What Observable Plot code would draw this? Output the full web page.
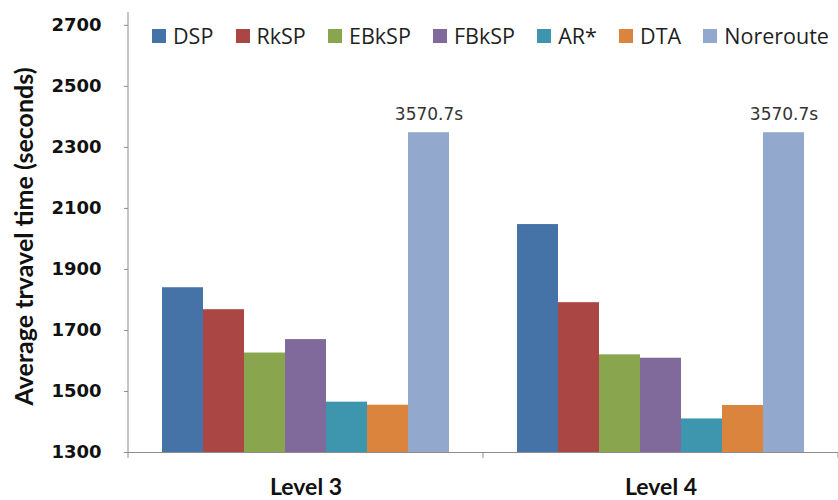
<!DOCTYPE html>
<html><head><meta charset="utf-8">
<script src="https://cdn.jsdelivr.net/npm/d3@7"></script>
<script src="https://cdn.jsdelivr.net/npm/@observablehq/plot@0.6"></script>
<style>
body{margin:0;background:#fff;}
#wrap{position:relative;width:838px;height:500px;}
#legend{position:absolute;left:152px;top:25px;width:677px;display:flex;justify-content:space-between;align-items:center;font-family:"Open Sans";font-size:21.5px;line-height:22px;color:#1f1f1f;}
.item{display:flex;align-items:center;}
.sw{width:14px;height:14px;margin-right:7px;}
</style></head><body><div id="wrap"><div id="legend"></div></div>
<script>
const levels = ["Level 3", "Level 4"];
const series = ["DSP", "RkSP", "EBkSP", "FBkSP", "AR*", "DTA", "Noreroute"];
const level3Values = [1840, 1768, 1626, 1670, 1465, 1455, 3570.7];
const level4Values = [2047, 1791, 1620, 1609, 1410, 1454, 3570.7];
const barColors = ["#4572A7", "#AA4643", "#89A54E", "#80699B", "#3D96AE", "#DB843D", "#92A8CD"];
const yTicks = [1300, 1500, 1700, 1900, 2100, 2300, 2500, 2700];
const yMin = 1300;
const yTop = 2742;
const breakValue = 2348; // bars beyond the axis are drawn cut here, labelled with their value
const yTitle = "Average trvavel time (seconds)";

const valuesByLevel = [level3Values, level4Values];
const data = levels.flatMap((level, li) =>
  series.map((s, si) => ({level, series: s, value: valuesByLevel[li][si]})));

const chart = Plot.plot({
  width: 838, height: 500,
  marginLeft: 127, marginRight: 0, marginTop: 12, marginBottom: 48,
  fx: {domain: levels, padding: 0},
  x: {domain: series, paddingInner: 0, paddingOuter: 0.735, axis: null},
  y: {domain: [yMin, yTop]},
  color: {domain: series, range: barColors},
  marks: [
    Plot.barY(data, {fx: "level", x: "series", y1: yMin, y2: d => Math.min(d.value, breakValue), fill: "series"}),
    Plot.text(data.filter(d => d.value > breakValue), {
      fx: "level", x: "series", y: breakValue, text: d => `${d.value}s`,
      lineAnchor: "bottom", dy: -13, fontFamily: "DejaVu Sans", fontSize: 17, fill: "#333"
    }),
    Plot.ruleY([yMin], {stroke: "#8c8c8c"}),
    Plot.axisY({
      ticks: yTicks, tickSize: 4, tickPadding: 23, tickFormat: d => String(d),
      fontFamily: "DejaVu Sans", fontWeight: "bold", fontSize: 18, fill: "#111", stroke: "#8c8c8c", label: null
    }),
    Plot.axisFx({
      anchor: "bottom", tickSize: 0, tickPadding: 26,
      fontFamily: "Lato", fontWeight: "bold", fontSize: 23, fill: "#111", label: null
    }),
    Plot.text([{level: levels[0], t: yTitle}], {
      fx: "level", text: "t", frameAnchor: "left", textAnchor: "middle", lineAnchor: "middle",
      rotate: -90, dx: -104, dy: 4,
      fontFamily: "Lato", fontWeight: "bold", fontSize: 25, fill: "#111"
    })
  ]
});

// axis line on the left and band-boundary ticks along the bottom, from Plot's own scales
const fxs = chart.scale("fx"), ys = chart.scale("y");
const g = d3.select(chart).append("g").attr("stroke", "#8c8c8c");
const x0 = fxs.apply(levels[0]);
g.append("line").attr("x1", x0).attr("x2", x0).attr("y1", ys.apply(yTop)).attr("y2", ys.apply(yMin));
const bounds = levels.map(l => fxs.apply(l)).concat([fxs.apply(levels[levels.length - 1]) + fxs.bandwidth]);
bounds.forEach(b => g.append("line").attr("x1", b).attr("x2", b).attr("y1", ys.apply(yMin)).attr("y2", ys.apply(yMin) + 6));

document.getElementById("wrap").appendChild(chart);

const legend = document.getElementById("legend");
series.forEach((s, i) => {
  const item = document.createElement("div");
  item.className = "item";
  const sw = document.createElement("span");
  sw.className = "sw";
  sw.style.background = barColors[i];
  const t = document.createElement("span");
  t.textContent = s;
  item.appendChild(sw); item.appendChild(t);
  legend.appendChild(item);
});
</script>
</body></html>
